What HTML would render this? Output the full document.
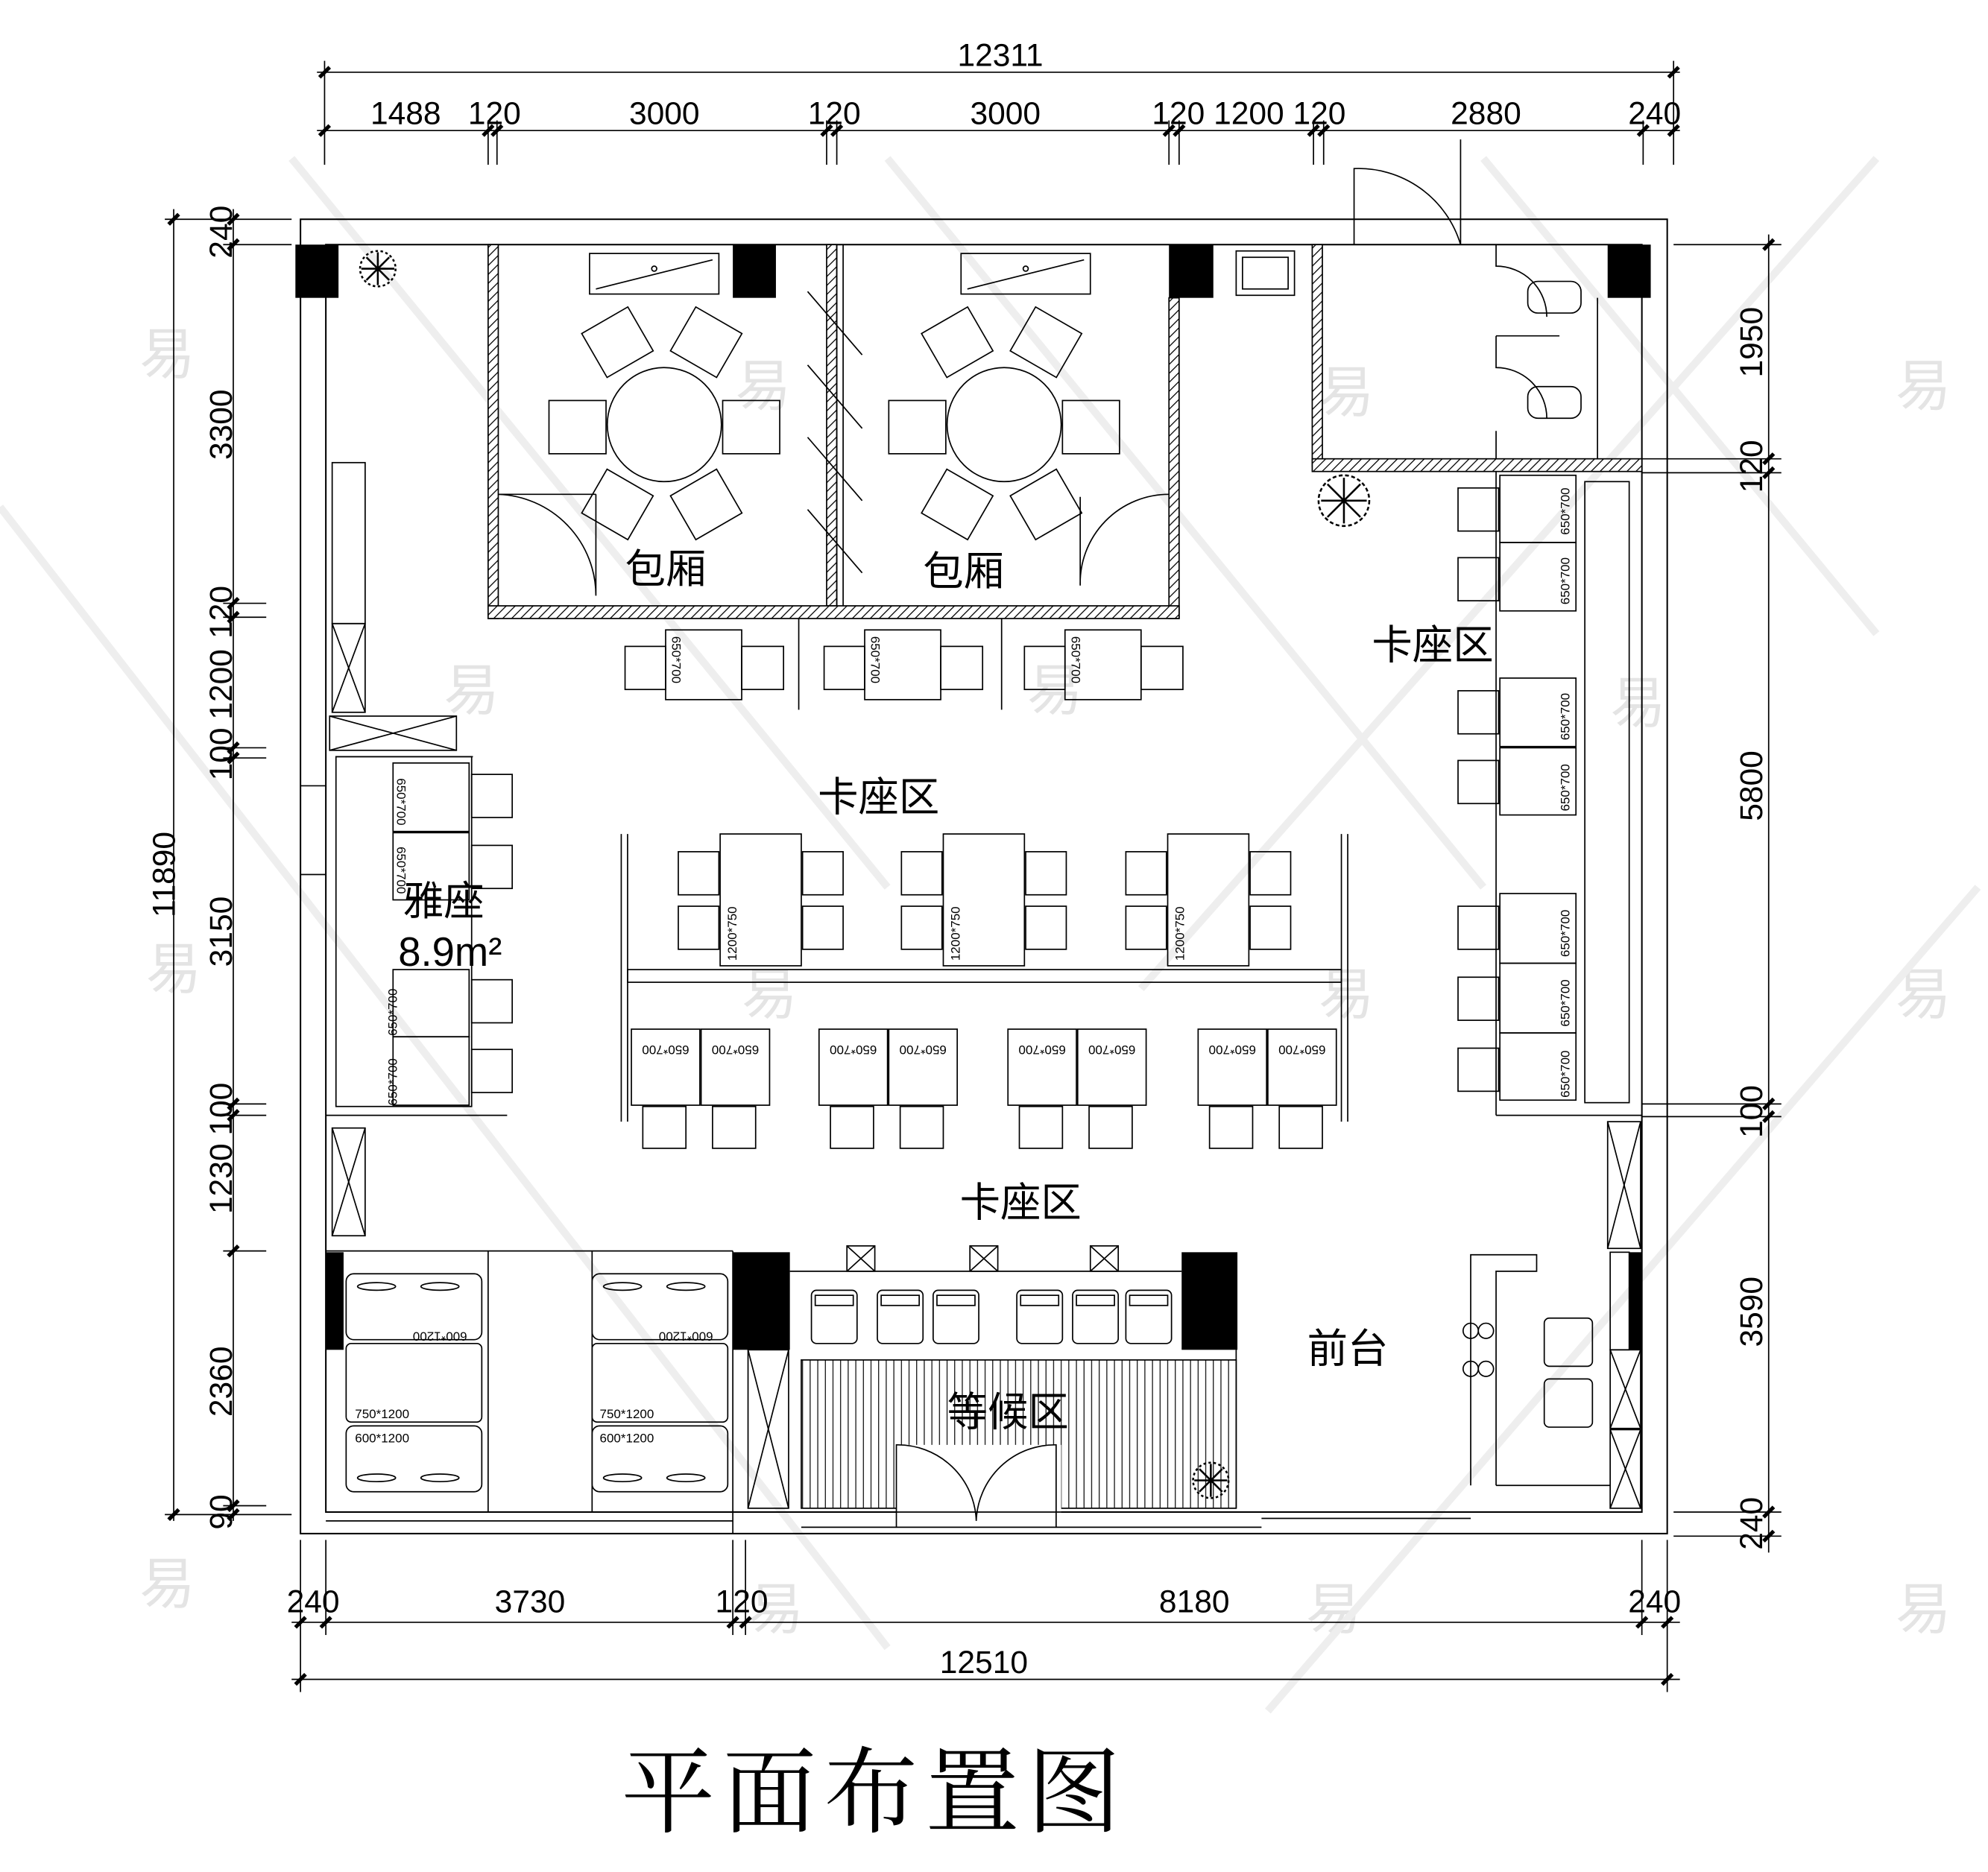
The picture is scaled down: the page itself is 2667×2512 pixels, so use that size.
<!DOCTYPE html>
<html><head><meta charset="utf-8">
<style>
html,body{margin:0;padding:0;background:#fff;}
svg{display:block;}
text{font-family:"Liberation Sans","Noto Sans CJK SC",sans-serif;}
.cn{font-family:"Liberation Serif","Noto Serif CJK SC","Noto Sans CJK SC",serif;}
</style></head>
<body>
<svg width="2667" height="2512" viewBox="0 0 1568 1477" preserveAspectRatio="none" xmlns="http://www.w3.org/2000/svg">
<defs>
<pattern id="h" width="5" height="5" patternUnits="userSpaceOnUse" patternTransform="rotate(45)">
<rect width="5" height="5" fill="#fff"/><line x1="0" y1="0" x2="0" y2="5" stroke="#000" stroke-width="1.5"/></pattern>
<pattern id="v" width="6" height="6" patternUnits="userSpaceOnUse"><line x1="3" y1="0" x2="3" y2="6" stroke="#000" stroke-width="0.7"/></pattern>
</defs>
<rect width="1568" height="1477" fill="#fff"/>

<!-- faint watermarks -->
<g fill="#e4e4e4" font-size="44" class="cn">
<text x="110" y="295">易</text><text x="1495" y="320">易</text><text x="350" y="560">易</text>
<text x="1270" y="570">易</text><text x="585" y="800">易</text><text x="1040" y="800">易</text>
<text x="115" y="780">易</text><text x="1495" y="800">易</text><text x="110" y="1265">易</text>
<text x="1495" y="1285">易</text><text x="1030" y="1285">易</text><text x="590" y="1285">易</text>
<text x="1040" y="325">易</text><text x="810" y="560">易</text><text x="580" y="320">易</text>
</g>
<g stroke="#eee" stroke-width="6" fill="none">
<line x1="230" y1="125" x2="700" y2="700"/><line x1="700" y1="125" x2="1170" y2="700"/>
<line x1="1170" y1="125" x2="1480" y2="500"/><line x1="1480" y1="125" x2="900" y2="780"/>
<line x1="0" y1="400" x2="700" y2="1300"/><line x1="1560" y1="700" x2="1000" y2="1350"/>
</g>

<g stroke="#000" fill="none" stroke-width="1">
<!-- dimension lines top -->
<line x1="250" y1="57" x2="1325" y2="57"/>
<line x1="250" y1="103" x2="1325" y2="103"/>
<g stroke-width="1">
<line x1="256" y1="48" x2="256" y2="130"/><line x1="1320" y1="48" x2="1320" y2="130"/>
<line x1="385" y1="95" x2="385" y2="130"/><line x1="392" y1="95" x2="392" y2="130"/>
<line x1="652" y1="95" x2="652" y2="130"/><line x1="660" y1="95" x2="660" y2="130"/>
<line x1="922" y1="95" x2="922" y2="130"/><line x1="930" y1="95" x2="930" y2="130"/>
<line x1="1036" y1="95" x2="1036" y2="130"/><line x1="1044" y1="95" x2="1044" y2="130"/>
<line x1="1296" y1="95" x2="1296" y2="130"/>
</g>
<g stroke-width="3">
<line x1="252" y1="61" x2="260" y2="53"/><line x1="1316" y1="61" x2="1324" y2="53"/>
<line x1="252" y1="107" x2="260" y2="99"/><line x1="381" y1="107" x2="389" y2="99"/><line x1="388" y1="107" x2="396" y2="99"/>
<line x1="648" y1="107" x2="656" y2="99"/><line x1="656" y1="107" x2="664" y2="99"/>
<line x1="918" y1="107" x2="926" y2="99"/><line x1="926" y1="107" x2="934" y2="99"/>
<line x1="1032" y1="107" x2="1040" y2="99"/><line x1="1040" y1="107" x2="1048" y2="99"/>
<line x1="1292" y1="107" x2="1300" y2="99"/><line x1="1316" y1="107" x2="1324" y2="99"/>
</g>
<!-- left dims -->
<line x1="137" y1="165" x2="137" y2="1200"/>
<line x1="184" y1="165" x2="184" y2="1200"/>
<g>
<line x1="130" y1="173" x2="230" y2="173"/><line x1="130" y1="1195" x2="230" y2="1195"/>
<line x1="176" y1="193" x2="230" y2="193"/><line x1="176" y1="476" x2="210" y2="476"/><line x1="176" y1="487" x2="210" y2="487"/>
<line x1="176" y1="590" x2="210" y2="590"/><line x1="176" y1="598" x2="210" y2="598"/>
<line x1="176" y1="871" x2="210" y2="871"/><line x1="176" y1="880" x2="210" y2="880"/>
<line x1="176" y1="987" x2="210" y2="987"/><line x1="176" y1="1188" x2="210" y2="1188"/>
</g>
<g stroke-width="3">
<line x1="133" y1="177" x2="141" y2="169"/><line x1="133" y1="1199" x2="141" y2="1191"/>
<line x1="180" y1="177" x2="188" y2="169"/><line x1="180" y1="197" x2="188" y2="189"/>
<line x1="180" y1="480" x2="188" y2="472"/><line x1="180" y1="491" x2="188" y2="483"/>
<line x1="180" y1="594" x2="188" y2="586"/><line x1="180" y1="602" x2="188" y2="594"/>
<line x1="180" y1="875" x2="188" y2="867"/><line x1="180" y1="884" x2="188" y2="876"/>
<line x1="180" y1="991" x2="188" y2="983"/><line x1="180" y1="1192" x2="188" y2="1184"/><line x1="180" y1="1199" x2="188" y2="1191"/>
</g>
<!-- right dims -->
<line x1="1395" y1="185" x2="1395" y2="1225"/>
<g>
<line x1="1320" y1="193" x2="1405" y2="193"/><line x1="1295" y1="362" x2="1405" y2="362"/><line x1="1295" y1="373" x2="1405" y2="373"/>
<line x1="1295" y1="871" x2="1405" y2="871"/><line x1="1295" y1="881" x2="1405" y2="881"/>
<line x1="1320" y1="1193" x2="1405" y2="1193"/><line x1="1320" y1="1212" x2="1405" y2="1212"/>
</g>
<g stroke-width="3">
<line x1="1391" y1="197" x2="1399" y2="189"/><line x1="1391" y1="366" x2="1399" y2="358"/><line x1="1391" y1="377" x2="1399" y2="369"/>
<line x1="1391" y1="875" x2="1399" y2="867"/><line x1="1391" y1="885" x2="1399" y2="877"/>
<line x1="1391" y1="1197" x2="1399" y2="1189"/><line x1="1391" y1="1216" x2="1399" y2="1208"/>
</g>
<!-- bottom dims -->
<line x1="230" y1="1280" x2="1325" y2="1280"/>
<line x1="230" y1="1325" x2="1325" y2="1325"/>
<g>
<line x1="237" y1="1215" x2="237" y2="1335"/><line x1="257" y1="1215" x2="257" y2="1290"/>
<line x1="578" y1="1215" x2="578" y2="1290"/><line x1="588" y1="1215" x2="588" y2="1290"/>
<line x1="1295" y1="1215" x2="1295" y2="1290"/><line x1="1315" y1="1215" x2="1315" y2="1335"/>
</g>
<g stroke-width="3">
<line x1="233" y1="1284" x2="241" y2="1276"/><line x1="253" y1="1284" x2="261" y2="1276"/>
<line x1="574" y1="1284" x2="582" y2="1276"/><line x1="584" y1="1284" x2="592" y2="1276"/>
<line x1="1291" y1="1284" x2="1299" y2="1276"/><line x1="1311" y1="1284" x2="1319" y2="1276"/>
<line x1="233" y1="1329" x2="241" y2="1321"/><line x1="1311" y1="1329" x2="1319" y2="1321"/>
</g>

<!-- outer walls -->
<rect x="237" y="173" width="1078" height="1037" stroke-width="1.2"/>
<rect x="257" y="193" width="1038" height="1000" stroke-width="1.2"/>
<line x1="237" y1="620" x2="257" y2="620"/><line x1="237" y1="690" x2="257" y2="690"/>
<!-- bottom storefront -->
<line x1="257" y1="1200" x2="578" y2="1200"/><line x1="632" y1="1205" x2="995" y2="1205"/>
<line x1="995" y1="1198" x2="1160" y2="1198"/>
<!-- door at top -->
<path d="M1068 193 L1068 133 A84 84 0 0 1 1152 193"/>
<line x1="1152" y1="110" x2="1152" y2="193"/>

<!-- columns -->
<g fill="#000" stroke="none">
<rect x="233" y="193" width="34" height="42"/><rect x="578" y="193" width="34" height="42"/>
<rect x="922" y="193" width="35" height="42"/><rect x="1268" y="193" width="34" height="42"/>
<rect x="257" y="988" width="14" height="77"/><rect x="578" y="988" width="45" height="77"/>
<rect x="932" y="988" width="44" height="77"/><rect x="1285" y="988" width="10" height="77"/>
</g>

<!-- private room walls hatched -->
<g fill="url(#h)" stroke="#000">
<rect x="385" y="193" width="8" height="295"/><rect x="652" y="193" width="8" height="285"/>
<rect x="922" y="235" width="8" height="253"/><rect x="385" y="478" width="545" height="10"/>
<rect x="1035" y="193" width="8" height="175"/><rect x="1035" y="362" width="260" height="10"/>
</g>
<line x1="660" y1="193" x2="660" y2="478"/><line x1="665" y1="193" x2="665" y2="478"/>
<!-- sliding partition glass -->
<g><line x1="637" y1="230" x2="680" y2="280"/><line x1="637" y1="288" x2="680" y2="338"/><line x1="637" y1="345" x2="680" y2="395"/><line x1="637" y1="402" x2="680" y2="452"/></g>
<!-- room doors -->
<path d="M393 390 A80 80 0 0 1 470 470 L470 390"/><line x1="393" y1="390" x2="470" y2="390"/>
<path d="M922 390 A70 70 0 0 0 852 462 L852 392"/>

<!-- sinks -->
<rect x="465" y="200" width="102" height="32"/><line x1="470" y1="228" x2="562" y2="205"/><circle cx="516" cy="212" r="2"/>
<rect x="758" y="200" width="102" height="32"/><line x1="763" y1="228" x2="855" y2="205"/><circle cx="809" cy="212" r="2"/>
<rect x="975" y="198" width="46" height="35"/><rect x="980" y="203" width="36" height="25"/>

<!-- round tables -->
<circle cx="524" cy="335" r="45"/><circle cx="792" cy="335" r="45"/>
<g id="rc">
<rect x="433" y="316" width="45" height="42"/><rect x="570" y="316" width="45" height="42"/>
<rect x="466" y="250" width="42" height="40" transform="rotate(-30 487 270)"/>
<rect x="536" y="250" width="42" height="40" transform="rotate(30 557 270)"/>
<rect x="466" y="378" width="42" height="40" transform="rotate(30 487 398)"/>
<rect x="536" y="378" width="42" height="40" transform="rotate(-30 557 398)"/>
</g>
<use href="#rc" x="268"/>

<!-- toilets -->
<rect x="1205" y="222" width="42" height="25" rx="8"/><rect x="1205" y="305" width="42" height="25" rx="8"/>
<path d="M1180 193 L1180 210 A40 40 0 0 1 1220 250"/><path d="M1180 265 L1180 290 A40 40 0 0 1 1220 330"/>
<line x1="1180" y1="265" x2="1230" y2="265"/><line x1="1180" y1="340" x2="1180" y2="362"/>
<line x1="1260" y1="235" x2="1260" y2="362"/>

<!-- left wall cabinets -->
<rect x="262" y="365" width="26" height="127"/>
<rect x="262" y="492" width="26" height="70"/><line x1="262" y1="492" x2="288" y2="562"/><line x1="288" y1="492" x2="262" y2="562"/>
<rect x="260" y="565" width="100" height="27"/><line x1="260" y1="565" x2="360" y2="592"/><line x1="360" y1="565" x2="260" y2="592"/>
<rect x="262" y="890" width="26" height="85"/><line x1="262" y1="890" x2="288" y2="975"/><line x1="288" y1="890" x2="262" y2="975"/>
<line x1="257" y1="880" x2="400" y2="880"/>

<!-- 雅座 -->
<rect x="265" y="597" width="107" height="276"/><line x1="265" y1="597" x2="373" y2="597"/>
<g>
<rect x="310" y="602" width="60" height="54"/><rect x="310" y="657" width="60" height="53"/>
<rect x="310" y="765" width="60" height="53"/><rect x="310" y="818" width="60" height="54"/>
<rect x="372" y="611" width="32" height="34"/><rect x="372" y="667" width="32" height="34"/>
<rect x="372" y="773" width="32" height="34"/><rect x="372" y="828" width="32" height="34"/>
</g>

<!-- tables below private rooms -->
<g id="t2">
<rect x="525" y="497" width="60" height="55"/><rect x="493" y="510" width="32" height="34"/><rect x="585" y="510" width="33" height="34"/>
</g>
<use href="#t2" x="157"/><use href="#t2" x="315"/>
<line x1="630" y1="488" x2="630" y2="560"/><line x1="790" y1="488" x2="790" y2="560"/>

<!-- center booth area -->
<line x1="490" y1="658" x2="490" y2="885"/><line x1="495" y1="658" x2="495" y2="885"/>
<line x1="1058" y1="658" x2="1058" y2="885"/><line x1="1063" y1="658" x2="1063" y2="885"/>
<rect x="495" y="765" width="563" height="10"/>
<g id="bt">
<rect x="568" y="658" width="64" height="104"/>
<rect x="535" y="672" width="32" height="34"/><rect x="535" y="715" width="32" height="34"/>
<rect x="633" y="672" width="32" height="34"/><rect x="633" y="715" width="32" height="34"/>
</g>
<use href="#bt" x="176"/><use href="#bt" x="353"/>
<g id="lt">
<rect x="498" y="812" width="54" height="60"/><rect x="553" y="812" width="54" height="60"/>
<rect x="507" y="873" width="34" height="33"/><rect x="562" y="873" width="34" height="33"/>
</g>
<use href="#lt" x="148"/><use href="#lt" x="297"/><use href="#lt" x="447"/>

<!-- right booths -->
<rect x="1250" y="380" width="35" height="490"/>
<line x1="1180" y1="372" x2="1180" y2="880"/><line x1="1180" y1="880" x2="1295" y2="880"/>
<g>
<rect x="1183" y="375" width="60" height="53"/><rect x="1183" y="428" width="60" height="54"/>
<rect x="1183" y="535" width="60" height="54"/><rect x="1183" y="590" width="60" height="53"/>
<rect x="1183" y="705" width="60" height="55"/><rect x="1183" y="760" width="60" height="55"/><rect x="1183" y="815" width="60" height="53"/>
<rect x="1150" y="385" width="32" height="34"/><rect x="1150" y="440" width="32" height="34"/>
<rect x="1150" y="545" width="32" height="34"/><rect x="1150" y="600" width="32" height="34"/>
<rect x="1150" y="715" width="32" height="34"/><rect x="1150" y="771" width="32" height="34"/><rect x="1150" y="827" width="32" height="34"/>
</g>
<!-- right wall cabinets -->
<rect x="1268" y="885" width="26" height="100"/><line x1="1268" y1="885" x2="1294" y2="985"/><line x1="1294" y1="885" x2="1268" y2="985"/>
<rect x="1270" y="1065" width="24" height="62"/><line x1="1270" y1="1065" x2="1294" y2="1127"/><line x1="1294" y1="1065" x2="1270" y2="1127"/>
<rect x="1270" y="1128" width="24" height="62"/><line x1="1270" y1="1128" x2="1294" y2="1190"/><line x1="1294" y1="1128" x2="1270" y2="1190"/>
<rect x="1270" y="988" width="15" height="77"/>

<!-- bottom left rooms -->
<line x1="257" y1="987" x2="578" y2="987"/>
<line x1="385" y1="987" x2="385" y2="1193"/><line x1="467" y1="987" x2="467" y2="1193"/>
<line x1="578" y1="987" x2="578" y2="1210"/>
<g id="bd">
<rect x="273" y="1005" width="107" height="52" rx="6"/><rect x="273" y="1060" width="107" height="62" rx="4"/><rect x="273" y="1125" width="107" height="52" rx="6"/>
<ellipse cx="297" cy="1015" rx="15" ry="3"/><ellipse cx="347" cy="1015" rx="15" ry="3"/>
<ellipse cx="297" cy="1166" rx="15" ry="3"/><ellipse cx="347" cy="1166" rx="15" ry="3"/>
</g>
<use href="#bd" x="194"/>

<!-- waiting area -->
<line x1="623" y1="1003" x2="932" y2="1003"/>
<g>
<rect x="668" y="983" width="22" height="20"/><line x1="668" y1="983" x2="690" y2="1003"/><line x1="690" y1="983" x2="668" y2="1003"/>
<rect x="765" y="983" width="22" height="20"/><line x1="765" y1="983" x2="787" y2="1003"/><line x1="787" y1="983" x2="765" y2="1003"/>
<rect x="860" y="983" width="22" height="20"/><line x1="860" y1="983" x2="882" y2="1003"/><line x1="882" y1="983" x2="860" y2="1003"/>
</g>
<g id="wc"><rect x="640" y="1018" width="36" height="42" rx="4"/><rect x="643" y="1022" width="30" height="8"/></g>
<use href="#wc" x="52"/><use href="#wc" x="96"/><use href="#wc" x="162"/><use href="#wc" x="206"/><use href="#wc" x="248"/>
<rect x="632" y="1073" width="343" height="117" fill="url(#v)"/>
<rect x="707" y="1140" width="130" height="55" fill="#fff" stroke="none"/>
<path d="M707 1205 L707 1140 A62 62 0 0 1 770 1200 M833 1205 L833 1140 A62 62 0 0 0 770 1200"/>
<rect x="590" y="1065" width="32" height="125"/><line x1="590" y1="1065" x2="622" y2="1190"/><line x1="622" y1="1065" x2="590" y2="1190"/>
<line x1="975" y1="1065" x2="975" y2="1190"/><line x1="578" y1="1193" x2="995" y2="1193"/>

<!-- front desk -->
<path d="M1160 1172 L1160 990 L1212 990 L1212 1003 L1180 1003 L1180 1172"/>
<line x1="1180" y1="1172" x2="1270" y2="1172"/>
<circle cx="1160" cy="1050" r="6"/><circle cx="1172" cy="1050" r="6"/><circle cx="1160" cy="1080" r="6"/><circle cx="1172" cy="1080" r="6"/>
<rect x="1218" y="1040" width="38" height="38" rx="4"/><rect x="1218" y="1088" width="38" height="38" rx="4"/>
</g>

<!-- plants -->
<g stroke="#000" stroke-width="1.5" fill="none">
<circle cx="298" cy="212" r="14" stroke-dasharray="2 2"/><path d="M285 212h26M298 199v26M289 203l18 18M307 203l-18 18"/>
<circle cx="1060" cy="395" r="20" stroke-dasharray="3 2"/><path d="M1042 395h36M1060 377v36M1047 382l26 26M1073 382l-26 26"/>
<circle cx="955" cy="1168" r="14" stroke-dasharray="2 2"/><path d="M942 1168h26M955 1155v26M946 1159l18 18M964 1159l-18 18"/>
</g>

<!-- small table labels -->
<g font-size="10" fill="#000">
<text x="313" y="614" transform="rotate(90 313 614)">650*700</text>
<text x="313" y="668" transform="rotate(90 313 668)">650*700</text>
<text x="313" y="780" transform="rotate(-90 313 780)" text-anchor="end">650*700</text>
<text x="313" y="835" transform="rotate(-90 313 835)" text-anchor="end">650*700</text>
<text x="530" y="502" transform="rotate(90 530 502)">650*700</text>
<text x="687" y="502" transform="rotate(90 687 502)">650*700</text>
<text x="845" y="502" transform="rotate(90 845 502)">650*700</text>
<text x="581" y="758" transform="rotate(-90 581 758)">1200*750</text>
<text x="757" y="758" transform="rotate(-90 757 758)">1200*750</text>
<text x="934" y="758" transform="rotate(-90 934 758)">1200*750</text>
<text x="1238" y="422" transform="rotate(-90 1238 422)">650*700</text>
<text x="1238" y="477" transform="rotate(-90 1238 477)">650*700</text>
<text x="1238" y="584" transform="rotate(-90 1238 584)">650*700</text>
<text x="1238" y="640" transform="rotate(-90 1238 640)">650*700</text>
<text x="1238" y="755" transform="rotate(-90 1238 755)">650*700</text>
<text x="1238" y="810" transform="rotate(-90 1238 810)">650*700</text>
<text x="1238" y="866" transform="rotate(-90 1238 866)">650*700</text>
<g text-anchor="middle">
<text x="525" y="817" transform="rotate(180 525 821)">650*700</text><text x="580" y="817" transform="rotate(180 580 821)">650*700</text>
<text x="673" y="817" transform="rotate(180 673 821)">650*700</text><text x="728" y="817" transform="rotate(180 728 821)">650*700</text>
<text x="822" y="817" transform="rotate(180 822 821)">650*700</text><text x="877" y="817" transform="rotate(180 877 821)">650*700</text>
<text x="972" y="817" transform="rotate(180 972 821)">650*700</text><text x="1027" y="817" transform="rotate(180 1027 821)">650*700</text>
<text x="347" y="1043" transform="rotate(180 347 1047)">600*1200</text>
<text x="541" y="1043" transform="rotate(180 541 1047)">600*1200</text>
</g>
<text x="280" y="1119">750*1200</text><text x="280" y="1138">600*1200</text>
<text x="473" y="1119">750*1200</text><text x="473" y="1138">600*1200</text>
</g>

<!-- dimension text -->
<g font-size="25" fill="#000" text-anchor="middle" font-family="Liberation Sans" style="font-stretch:condensed">
<text x="789" y="52">12311</text>
<text x="320" y="98">1488</text><text x="390" y="98">120</text><text x="524" y="98">3000</text>
<text x="658" y="98">120</text><text x="793" y="98">3000</text><text x="985" y="98">120 1200 120</text>
<text x="1172" y="98">2880</text><text x="1305" y="98">240</text>
<text x="247" y="1272">240</text><text x="418" y="1272">3730</text><text x="585" y="1272">120</text>
<text x="942" y="1272">8180</text><text x="1305" y="1272">240</text>
<text x="776" y="1320">12510</text>
<g transform="rotate(-90)">
<text x="-690" y="138">11890</text>
<text x="-183" y="183">240</text><text x="-335" y="183">3300</text><text x="-483" y="183">120</text>
<text x="-540" y="183">1200</text><text x="-595" y="183">100</text><text x="-735" y="183">3150</text>
<text x="-875" y="183">100</text><text x="-930" y="183">1230</text><text x="-1090" y="183">2360</text><text x="-1193" y="183">90</text>
<text x="-270" y="1390">1950</text><text x="-368" y="1390">120</text><text x="-620" y="1390">5800</text>
<text x="-877" y="1390">100</text><text x="-1035" y="1390">3590</text><text x="-1202" y="1390">240</text>
</g>
</g>

<!-- room labels -->
<g class="cn" font-size="32" fill="#000" text-anchor="middle">
<text x="525" y="460">包厢</text><text x="760" y="462">包厢</text>
<text x="1130" y="520">卡座区</text><text x="693" y="640">卡座区</text>
<text x="350" y="722">雅座</text><text x="355" y="762">8.9m²</text>
<text x="805" y="960">卡座区</text><text x="1063" y="1075">前台</text>
<text x="795" y="1125">等候区</text>
</g>
<text x="690" y="1440" class="cn" font-size="74" text-anchor="middle" fill="#000" letter-spacing="6">平面布置图</text>
</svg>
</body></html>
